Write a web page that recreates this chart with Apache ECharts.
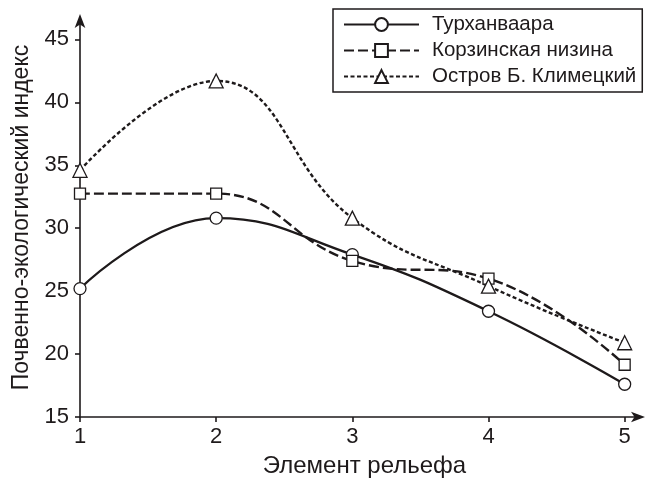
<!DOCTYPE html>
<html><head><meta charset="utf-8">
<script src="https://cdn.jsdelivr.net/npm/echarts@6/dist/echarts.min.js"></script>
<style>html,body{margin:0;padding:0;background:#fff}#c{width:645px;height:483px}</style>
</head><body><div id="c"></div>
<script>
const xValues = [1, 2, 3, 4, 5];
const xTicks = [1, 2, 3, 4, 5];
const yTicks = [15, 20, 25, 30, 35, 40, 45];
const seriesNames = ['Турханваара', 'Корзинская низина', 'Остров Б. Климецкий'];
const turkhanvaara = [25.2, 30.8, 27.9, 23.4, 17.6];
const korzinskaya = [32.75, 32.75, 27.4, 26.0, 19.15];
const ostrov = [34.6, 41.7, 30.8, 25.4, 20.9];

const ink = '#1e1a1b';
const font = 'Liberation Sans, Arial, sans-serif';
function pairs(vals){ return xValues.map((x,i)=>[x, vals[i]]); }

const chart = echarts.init(document.getElementById('c'), null, {renderer:'canvas'});
chart.setOption({
  animation:false,
  backgroundColor:'#fff',
  textStyle:{fontFamily:font, color:ink},
  grid:{left:80, right:4, top:18, bottom:63},
  legend:{
    orient:'vertical', left:333, top:9,
    padding:[5, 6, 5, 10],
    borderColor:ink, borderWidth:1.5, borderRadius:0,
    itemWidth:75, itemHeight:16, itemGap:5,
    textStyle:{fontSize:20.5, color:ink, fontFamily:font, padding:[0,0,0,8]},
    data:seriesNames
  },
  xAxis:{
    type:'value', min:1, max:5.12,
    name:'Элемент рельефа', nameLocation:'middle', nameGap:37,
    nameTextStyle:{fontSize:24, color:ink, fontFamily:font, padding:[0,0,0,8]},
    axisLine:{lineStyle:{color:ink, width:1.6}, symbol:['none','arrow'], symbolSize:[8,14], symbolOffset:[0,4]},
    axisTick:{show:true, inside:false, length:5, lineStyle:{color:ink, width:1.6}, customValues:xTicks},
    axisLabel:{fontSize:22, color:ink, margin:9, customValues:xTicks},
    splitLine:{show:false}
  },
  yAxis:{
    type:'value', min:15, max:46.7,
    name:'Почвенно-экологический индекс', nameLocation:'middle', nameGap:46,
    nameTextStyle:{fontSize:23, color:ink, fontFamily:font},
    axisLine:{show:true, lineStyle:{color:ink, width:1.6}, symbol:['none','arrow'], symbolSize:[8,14], symbolOffset:[0,4]},
    axisTick:{show:true, inside:false, length:5, lineStyle:{color:ink, width:1.6}, customValues:yTicks},
    axisLabel:{fontSize:22, color:ink, margin:11, customValues:yTicks},
    splitLine:{show:false}
  },
  series:[
    {name:seriesNames[0], type:'line', smooth:0.45, data:pairs(turkhanvaara),
     symbol:'circle', symbolSize:12,
     lineStyle:{color:ink, width:2.4, type:'solid'},
     itemStyle:{color:'#fff', borderColor:ink, borderWidth:1.3}, z:3},
    {name:seriesNames[1], type:'line', smooth:0.45, data:pairs(korzinskaya),
     symbol:'rect', symbolSize:11,
     lineStyle:{color:ink, width:2.4, type:[10,4]},
     itemStyle:{color:'#fff', borderColor:ink, borderWidth:1.3}, z:3},
    {name:seriesNames[2], type:'line', smooth:0.45, data:pairs(ostrov),
     symbol:'triangle', symbolSize:14,
     lineStyle:{color:ink, width:2.4, type:[4,2.5]},
     itemStyle:{color:'#fff', borderColor:ink, borderWidth:1.3}, z:3}
  ]
});
</script></body></html>
